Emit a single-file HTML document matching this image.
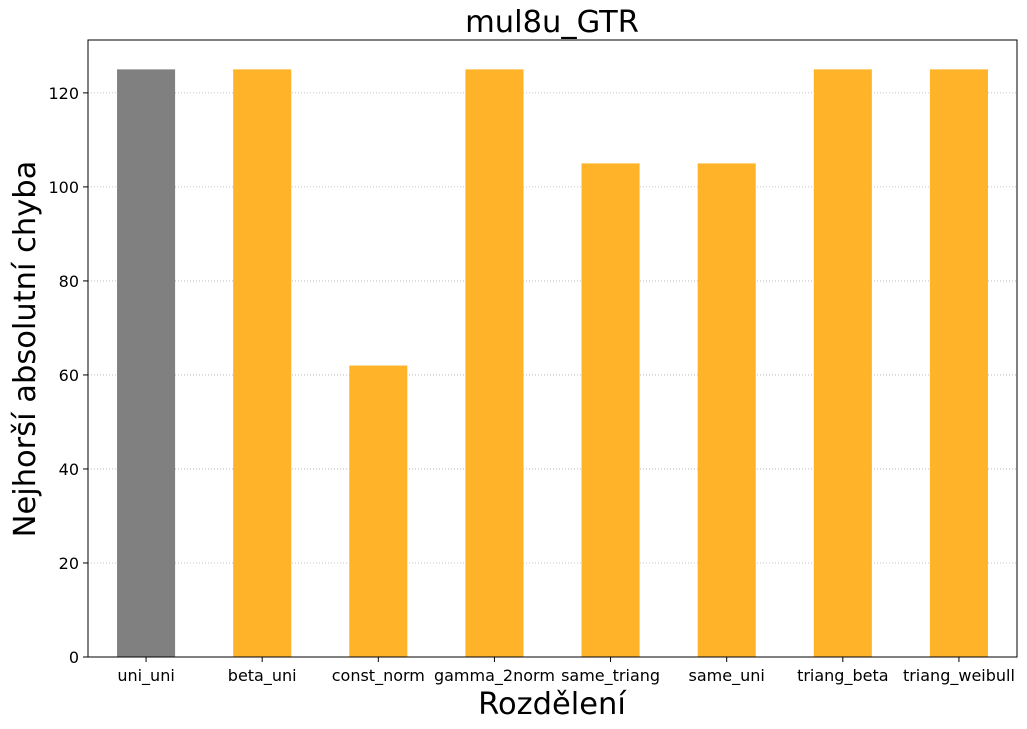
<!DOCTYPE html>
<html><head><meta charset="utf-8"><style>
body{margin:0;background:#fff;}
svg{display:block;font-family:"DejaVu Sans","Liberation Sans",sans-serif;}
</style></head><body>
<svg id="chart" width="1027" height="729">
<rect width="1027" height="729" fill="#fff"/>
<g id="grid"></g><g id="bars"></g><g id="axes"></g>
<text x="552" y="32" font-size="30.5" text-anchor="middle">mul8u_GTR</text>
<text x="552" y="714" font-size="30.5" text-anchor="middle">Rozdělení</text>
<text transform="translate(35,349) rotate(-90)" font-size="30.5" text-anchor="middle">Nejhorší absolutní chyba</text>
</svg>
<script>
const categories=["uni_uni","beta_uni","const_norm","gamma_2norm","same_triang","same_uni","triang_beta","triang_weibull"];
const values=[125,125,62,125,105,105,125,125];
const yTicks=[0,20,40,60,80,100,120];
const L=88,R=1017,T=40,B=657,yMax=131.25;
const ns="http://www.w3.org/2000/svg";
const xs=i=>L+(i+0.5)*(R-L)/categories.length;
const ys=v=>B-v*(B-T)/yMax;
const bw=0.5*(R-L)/categories.length;
function mk(t,a,p){const e=document.createElementNS(ns,t);for(const k in a)e.setAttribute(k,a[k]);document.getElementById(p).appendChild(e);return e;}
yTicks.forEach(v=>{
 if(v>0){const g=mk('line',{x1:L,x2:R,y1:ys(v),y2:ys(v),stroke:'#b0b0b0','stroke-width':0.8,'stroke-dasharray':'1,2'},'grid');
 
 }
 const tk=mk('line',{x1:L-5,x2:L,y1:ys(v),y2:ys(v),stroke:'#000'},'axes');
 
 
 const t=mk('text',{x:L-9,y:ys(v)+6,'font-size':16,'text-anchor':'end'},'axes');t.textContent=v;
 
 
});
categories.forEach((c,i)=>{
 const r=mk('rect',{x:xs(i)-bw/2,y:ys(values[i]),width:bw,height:B-ys(values[i]),fill:i===0?'#808080':'#ffb329'},'bars');
 
 
 const tk=mk('line',{x1:xs(i),x2:xs(i),y1:B,y2:B+5,stroke:'#000'},'axes');
 
 
 const t=mk('text',{x:xs(i),y:B+24,'font-size':16,'text-anchor':'middle'},'axes');t.textContent=c;
 
 
});
const f=mk('rect',{x:L,y:T,width:R-L,height:B-T,fill:'none',stroke:'#000','stroke-width':1},'axes');


</script>
</body></html>
